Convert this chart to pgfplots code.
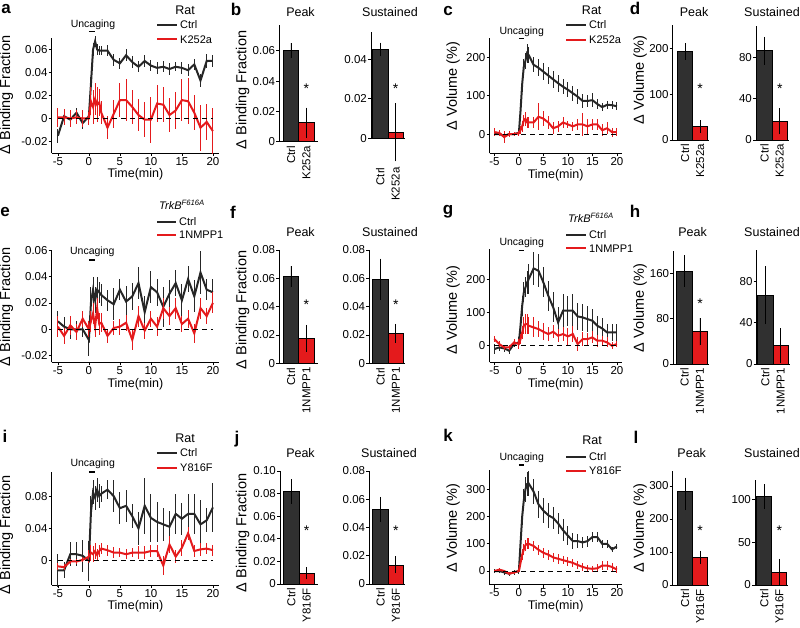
\documentclass[border=0pt]{standalone}
\usepackage{fontspec}
\setmainfont{Liberation Sans}
\usepackage{pgfplots}
\pgfplotsset{compat=1.18}
\definecolor{ctrl}{HTML}{262626}
\definecolor{barg}{HTML}{303030}
\definecolor{drug}{HTML}{E41A1C}
\newcommand\fs[1]{\fontsize{#1}{#1}\selectfont}

\pgfplotsset{
  fig/.style={scale only axis, anchor=south west, clip=false,
    axis lines*=left, axis line style={line width=0.8pt},
    every tick/.style={black, line width=0.8pt},
    tick align=outside, major tick length=3pt,
    scaled y ticks=false,
    ticklabel style={font=\fs{11.5}, inner sep=1pt},
    /pgf/number format/assume math mode=true},
  trace/.style={fig, xmin=-6, xmax=21, xtick={-5,0,5,10,15,20},
    xticklabels={-5,0,5,10,15,20}, xlabel={Time(min)},
    xlabel style={font=\fs{12.5}, inner sep=0.5pt, at={(rel axis cs:0.5,0)}, anchor=center, yshift=-21.5pt}},
  bars/.style={fig, ymin=0, xtick={1,2}, xtick style={draw=none},
    xticklabel style={rotate=90, anchor=east}},
  zero/.style={black, line width=0.8pt, dash pattern=on 5pt off 4pt},
  unc/.style={black, line width=1.2pt},
  ctrlline/.style={ctrl, line width=2pt, error bars/.cd, y dir=both, y explicit,
    error mark=none, error bar style={ctrl, line width=0.9pt}},
  drugline/.style={drug, line width=2pt, error bars/.cd, y dir=both, y explicit,
    error mark=none, error bar style={drug, line width=0.9pt}},
  ctrlbar/.style={ybar, bar width=1, bar shift=0pt, fill=barg, draw=black, line width=0.8pt,
    error bars/.cd, y dir=both, y explicit, error mark=none, error bar style={black, line width=0.8pt}},
  drugbar/.style={ybar, bar width=1, bar shift=0pt, fill=drug, draw=black, line width=0.8pt,
    error bars/.cd, y dir=both, y explicit, error mark=none, error bar style={black, line width=0.8pt}},
}
\tikzset{star/.style={font=\fs{14}, yshift=-3pt, inner sep=0.5pt},
  ttl/.style={font=\fs{12.5}, inner sep=1pt},
  lbl/.style={font=\fs{17}\bfseries, inner sep=1pt},
  yl/.style={rotate=90, font=\fs{14.5}, inner sep=1pt},
  leg/.style={font=\fs{11}, anchor=west, inner sep=1pt, xshift=2pt},
  unct/.style={font=\fs{10.5}, inner sep=0.5pt},
  hdr/.style={font=\fs{12.5}, inner sep=0.5pt},
  legl/.style={line width=2pt}}

\begin{document}
\begin{tikzpicture}
\path[use as bounding box] (0,0) rectangle (800pt,627pt);

%%%%%%%%%%%%%%%% row 1
\begin{axis}[trace, at={(51.7pt,474pt)}, width=167.4pt, height=115pt,
  ymin=-0.03, ymax=0.07, ytick={-0.02,0,0.02,0.04,0.06},
  yticklabels={-0.02,0,0.02,0.04,0.06}]
\addplot[ctrlline] table[x=t,y=y,y error=e] {
t y e
-5 -0.015 0.006
-4 0.002 0.005
-3 -0.001 0.005
-2 0.005 0.004
-1 -0.004 0.005
0 0.002 0.004
0.33 0.030 0.006
0.67 0.060 0.006
1 0.067 0.005
1.33 0.060 0.005
1.67 0.059 0.004
2 0.059 0.004
3 0.059 0.005
4 0.051 0.005
5 0.048 0.005
6 0.055 0.005
7 0.049 0.005
8 0.045 0.005
9 0.050 0.005
10 0.046 0.005
11 0.044 0.005
12 0.045 0.005
13 0.043 0.005
14 0.045 0.004
15 0.044 0.005
16 0.042 0.005
17 0.047 0.005
18 0.033 0.006
19 0.050 0.006
20 0.050 0.005
};
\addplot[drugline] table[x=t,y=y,y error=e] {
t y e
-5 0.001 0.008
-4 0.001 0.007
-3 0.000 0.007
-2 0.001 0.006
-1 0.000 0.007
0 0.000 0.006
0.33 0.015 0.012
0.67 0.010 0.015
1 0.017 0.014
1.33 0.012 0.015
1.67 0.014 0.012
2 0.005 0.010
3 -0.008 0.010
4 0.004 0.012
5 0.016 0.015
6 0.016 0.018
7 0.010 0.015
8 0.003 0.014
9 -0.001 0.015
10 -0.001 0.020
11 0.013 0.016
12 0.012 0.015
13 0.003 0.015
14 0.007 0.016
15 0.016 0.018
16 0.015 0.020
17 0.005 0.015
18 -0.008 0.020
19 -0.003 0.016
20 -0.011 0.020
};
\addplot[zero] coordinates {(-5,0) (20,0)};
\addplot[unc] coordinates {(0,0.0753) (1,0.0753)};
\end{axis}

\begin{axis}[bars, at={(279.3pt,485.3pt)}, width=38.75pt, height=116.7pt,
  xmin=0.25, xmax=2.75, ymax=0.077, ytick={0,0.02,0.04,0.06},
  yticklabels={0,0.02,0.04,0.06}, xticklabels={Ctrl,K252a}]
\addplot[ctrlbar] coordinates {(1,0.060) +- (0,0.005)};
\addplot[drugbar] coordinates {(2,0.0125) +- (0,0.010)};
\node[star] at (axis cs:2,0.037) {*};
\end{axis}

\begin{axis}[bars, at={(371pt,488.7pt)}, width=34.3pt, height=106.6pt,
  xmin=0.39, xmax=2.63, ymax=0.054, ytick={0,0.02,0.04},
  yticklabels={0,0.02,0.04}, xticklabels={Ctrl,K252a}, xticklabel shift=25pt]
\addplot[ctrlbar] coordinates {(1,0.045) +- (0,0.0035)};
\addplot[drugbar] coordinates {(2,0.003) +- (0,0.0147)};
\node[star] at (axis cs:2,0.0265) {*};
\end{axis}

\begin{axis}[trace, at={(489.5pt,473.7pt)}, width=132.3pt, height=115.5pt,
  ymin=-50, ymax=250, ytick={0,100,200}, yticklabels={0,100,200}]
\addplot[ctrlline] table[x=t,y=y,y error=e] {
t y e
-5 0 6
-4 0 5
-3 -5 6
-2 0 5
-1 0 5
0 3 5
0.33 60 15
0.67 130 20
1 175 20
1.33 190 20
1.67 210 25
2 205 20
3 180 20
4 172 22
5 162 22
6 152 22
7 142 22
8 132 22
9 123 20
10 115 20
11 106 20
12 97 20
13 86 18
14 86 15
15 88 18
16 78 12
17 70 10
18 76 10
19 75 10
20 72 10
};
\addplot[drugline] table[x=t,y=y,y error=e] {
t y e
-5 5 10
-4 3 8
-3 -8 15
-2 0 8
-1 0 6
0 2 6
0.33 10 10
0.67 20 15
1 35 15
1.33 40 18
1.67 30 15
2 30 15
3 30 15
4 45 35
5 40 20
6 30 18
7 15 15
8 20 15
9 30 15
10 25 10
11 20 12
12 25 15
13 25 30
14 20 20
15 25 15
16 25 15
17 10 15
18 15 15
19 5 12
20 5 10
};
\addplot[zero] coordinates {(-5,0) (20,0)};
\addplot[unc] coordinates {(0,249) (1,249)};
\end{axis}

\begin{axis}[bars, at={(672.7pt,487pt)}, width=36.6pt, height=114.5pt,
  xmin=0.19, xmax=2.6, ymax=250, ytick={0,100,200},
  yticklabels={0,100,200}, xticklabels={Ctrl,K252a}]
\addplot[ctrlbar] coordinates {(1,193) +- (0,18)};
\addplot[drugbar] coordinates {(2,29) +- (0,14)};
\node[star] at (axis cs:2,118) {*};
\end{axis}

\begin{axis}[bars, at={(756pt,487pt)}, width=33.4pt, height=114pt,
  xmin=0.45, xmax=2.63, ymax=110, ytick={0,40,80},
  yticklabels={0,40,80}, xticklabels={Ctrl,K252a}]
\addplot[ctrlbar] coordinates {(1,86) +- (0,13.5)};
\addplot[drugbar] coordinates {(2,18) +- (0,12.5)};
\node[star] at (axis cs:2,52) {*};
\end{axis}

%%%%%%%%%%%%%%%% row 2
\begin{axis}[trace, at={(51.7pt,264.7pt)}, width=167.4pt, height=112.2pt,
  ymin=-0.025, ymax=0.06, ytick={-0.02,0,0.02,0.04,0.06},
  yticklabels={-0.02,0,0.02,0.04,0.06}]
\addplot[ctrlline] table[x=t,y=y,y error=e] {
t y e
-5 0.006 0.008
-4 0.002 0.007
-3 0.000 0.007
-2 0.000 0.006
-1 0.000 0.006
0 -0.008 0.012
0.33 0.020 0.012
0.67 0.030 0.010
1 0.022 0.010
1.33 0.030 0.010
1.67 0.028 0.008
2 0.026 0.008
3 0.022 0.008
4 0.019 0.012
5 0.030 0.008
6 0.021 0.012
7 0.025 0.010
8 0.035 0.012
9 0.013 0.012
10 0.032 0.012
11 0.028 0.010
12 0.017 0.015
13 0.027 0.010
14 0.035 0.010
15 0.022 0.012
16 0.038 0.010
17 0.025 0.012
18 0.043 0.016
19 0.030 0.008
20 0.028 0.010
};
\addplot[drugline] table[x=t,y=y,y error=e] {
t y e
-5 0.002 0.008
-4 -0.005 0.006
-3 0.003 0.007
-2 -0.002 0.006
-1 0.008 0.006
0 0.000 0.006
0.33 0.006 0.008
0.67 0.012 0.008
1 0.002 0.008
1.33 0.016 0.008
1.67 0.004 0.008
2 0.005 0.007
3 -0.005 0.005
4 0.001 0.005
5 0.002 0.006
6 0.005 0.006
7 -0.008 0.008
8 0.010 0.008
9 -0.001 0.006
10 0.008 0.006
11 0.002 0.007
12 0.016 0.008
13 0.010 0.007
14 0.016 0.008
15 0.004 0.006
16 0.008 0.007
17 -0.003 0.007
18 0.016 0.008
19 0.010 0.006
20 0.020 0.008
};
\addplot[zero] coordinates {(-5,0) (20,0)};
\addplot[unc] coordinates {(0,0.0525) (1,0.0525)};
\end{axis}

\begin{axis}[bars, at={(279.3pt,263.7pt)}, width=38.75pt, height=113.3pt,
  xmin=0.25, xmax=2.75, ymax=0.08, ytick={0,0.02,0.04,0.06,0.08},
  yticklabels={0,0.02,0.04,0.06,0.08}, xticklabels={Ctrl,1NMPP1}]
\addplot[ctrlbar] coordinates {(1,0.0612) +- (0,0.0075)};
\addplot[drugbar] coordinates {(2,0.0177) +- (0,0.0095)};
\node[star] at (axis cs:2,0.0435) {*};
\end{axis}

\begin{axis}[bars, at={(369.3pt,263.7pt)}, width=35.7pt, height=113.3pt,
  xmin=0.27, xmax=2.6, ymax=0.08, ytick={0,0.02,0.04,0.06,0.08},
  yticklabels={0,0.02,0.04,0.06,0.08}, xticklabels={Ctrl,1NMPP1}]
\addplot[ctrlbar] coordinates {(1,0.0594) +- (0,0.0145)};
\addplot[drugbar] coordinates {(2,0.0212) +- (0,0.0066)};
\node[star] at (axis cs:2,0.0435) {*};
\end{axis}

\begin{axis}[trace, at={(489.5pt,264.6pt)}, width=132.3pt, height=113.3pt,
  ymin=-50, ymax=290, ytick={0,100,200}, yticklabels={0,100,200}]
\addplot[ctrlline] table[x=t,y=y,y error=e] {
t y e
-5 -10 15
-4 -5 12
-3 -8 10
-2 -15 10
-1 5 10
0 10 15
0.33 60 25
0.67 120 30
1 160 30
1.33 175 30
1.67 190 35
2 200 45
3 232 50
4 225 50
5 190 45
6 150 45
7 115 45
8 70 45
9 105 50
10 105 45
11 105 50
12 88 40
13 85 40
14 80 40
15 75 35
16 60 30
17 52 30
18 40 25
19 40 25
20 40 25
};
\addplot[drugline] table[x=t,y=y,y error=e] {
t y e
-5 20 10
-4 5 8
-3 -5 8
-2 -5 8
-1 10 10
0 5 15
0.33 20 15
0.67 40 20
1 60 25
1.33 65 30
1.67 65 30
2 60 25
3 55 30
4 50 25
5 42 25
6 35 20
7 42 20
8 30 20
9 35 20
10 28 25
11 35 25
12 5 20
13 20 20
14 20 18
15 25 18
16 15 18
17 15 15
18 10 15
19 0 10
20 5 10
};
\addplot[zero] coordinates {(-5,0) (20,0)};
\addplot[unc] coordinates {(0,287) (1,287)};
\end{axis}

\begin{axis}[bars, at={(673.3pt,263pt)}, width=36pt, height=113.4pt,
  xmin=0.28, xmax=2.6, ymax=200, ytick={0,80,160},
  yticklabels={0,80,160}, xticklabels={Ctrl,1NMPP1}]
\addplot[ctrlbar] coordinates {(1,164) +- (0,27.5)};
\addplot[drugbar] coordinates {(2,57) +- (0,24)};
\node[star] at (axis cs:2,112) {*};
\end{axis}

\begin{axis}[bars, at={(756.7pt,263pt)}, width=33.4pt, height=114pt,
  xmin=0.44, xmax=2.62, ymax=110, ytick={0,40,80},
  yticklabels={0,40,80}, xticklabels={Ctrl,1NMPP1}]
\addplot[ctrlbar] coordinates {(1,66.5) +- (0,28)};
\addplot[drugbar] coordinates {(2,17.6) +- (0,17)};
\end{axis}

%%%%%%%%%%%%%%%% row 3
\begin{axis}[trace, at={(51.7pt,42.1pt)}, width=167.4pt, height=113pt,
  ymin=-0.03, ymax=0.11, ytick={0,0.04,0.08}, yticklabels={0,0.04,0.08}]
\addplot[ctrlline] table[x=t,y=y,y error=e] {
t y e
-5 -0.012 0.020
-4 -0.012 0.010
-3 0.008 0.015
-2 0.008 0.015
-1 0.006 0.020
0 0.000 0.025
0.33 0.060 0.020
0.67 0.085 0.015
1 0.078 0.015
1.33 0.088 0.015
1.67 0.080 0.015
2 0.083 0.010
3 0.088 0.012
4 0.080 0.020
5 0.065 0.020
6 0.068 0.020
7 0.055 0.015
8 0.040 0.020
9 0.068 0.035
10 0.053 0.030
11 0.048 0.025
12 0.045 0.020
13 0.042 0.020
14 0.058 0.025
15 0.052 0.020
16 0.058 0.025
17 0.058 0.025
18 0.045 0.030
19 0.050 0.015
20 0.066 0.030
};
\addplot[drugline] table[x=t,y=y,y error=e] {
t y e
-5 -0.007 0.004
-4 -0.008 0.004
-3 -0.001 0.003
-2 -0.001 0.003
-1 0.001 0.003
0 0.005 0.008
0.33 0.010 0.010
0.67 0.008 0.010
1 0.012 0.010
1.33 0.007 0.008
1.67 0.012 0.008
2 0.015 0.007
3 0.013 0.007
4 0.010 0.007
5 0.010 0.006
6 0.008 0.006
7 0.010 0.006
8 0.010 0.008
9 0.010 0.008
10 0.012 0.007
11 0.012 0.008
12 -0.006 0.012
13 0.020 0.010
14 0.005 0.008
15 0.016 0.010
16 0.034 0.008
17 0.012 0.008
18 0.014 0.008
19 0.015 0.007
20 0.013 0.007
};
\addplot[zero] coordinates {(-5,0) (20,0)};
\addplot[unc] coordinates {(0,0.110) (1,0.110)};
\end{axis}

\begin{axis}[bars, at={(280pt,43pt)}, width=38pt, height=113pt,
  xmin=0.28, xmax=2.73, ymax=0.10, ytick={0,0.02,0.04,0.06,0.08,0.10},
  yticklabels={0,0.02,0.04,0.06,0.08,0.10}, xticklabels={Ctrl,Y816F}]
\addplot[ctrlbar] coordinates {(1,0.0817) +- (0,0.011)};
\addplot[drugbar] coordinates {(2,0.0095) +- (0,0.0055)};
\node[star] at (axis cs:2,0.050) {*};
\end{axis}

\begin{axis}[bars, at={(369.3pt,43pt)}, width=35.7pt, height=113pt,
  xmin=0.27, xmax=2.6, ymax=0.08, ytick={0,0.02,0.04,0.06,0.08},
  yticklabels={0,0.02,0.04,0.06,0.08}, xticklabels={Ctrl,Y816F}]
\addplot[ctrlbar] coordinates {(1,0.0529) +- (0,0.0088)};
\addplot[drugbar] coordinates {(2,0.0135) +- (0,0.006)};
\node[star] at (axis cs:2,0.040) {*};
\end{axis}

\begin{axis}[trace, at={(489.5pt,42.4pt)}, width=132.3pt, height=114.2pt,
  ymin=-50, ymax=370, ytick={0,100,200,300}, yticklabels={0,100,200,300}]
\addplot[ctrlline] table[x=t,y=y,y error=e] {
t y e
-5 0 8
-4 0 8
-3 -5 8
-2 -10 8
-1 -5 8
0 0 10
0.33 100 25
0.67 200 30
1 260 40
1.33 300 45
1.67 320 45
2 322 45
3 292 45
4 245 50
5 222 45
6 205 45
7 195 40
8 175 40
9 150 40
10 130 35
11 110 30
12 110 25
13 105 20
14 110 20
15 125 20
16 125 20
17 100 15
18 100 15
19 80 10
20 90 10
};
\addplot[drugline] table[x=t,y=y,y error=e] {
t y e
-5 0 5
-4 5 5
-3 0 5
-2 -10 5
-1 -5 5
0 0 5
0.33 30 15
0.67 60 20
1 80 20
1.33 95 20
1.67 100 20
2 100 20
3 92 20
4 78 18
5 67 18
6 60 18
7 50 18
8 45 18
9 40 15
10 35 15
11 30 15
12 22 15
13 15 15
14 10 12
15 8 12
16 10 15
17 20 15
18 20 15
19 15 15
20 5 12
};
\addplot[zero] coordinates {(-5,0) (20,0)};
\addplot[unc] coordinates {(0,390) (1,390)};
\end{axis}

\begin{axis}[bars, at={(672.7pt,42pt)}, width=36.6pt, height=113.9pt,
  xmin=0.19, xmax=2.6, ymax=345, ytick={0,100,200,300},
  yticklabels={0,100,200,300}, xticklabels={Ctrl,Y816F}]
\addplot[ctrlbar] coordinates {(1,285) += (0,40) -= (0,58)};
\addplot[drugbar] coordinates {(2,83) +- (0,20)};
\node[star] at (axis cs:2,175) {*};
\end{axis}

\begin{axis}[bars, at={(755pt,42pt)}, width=33.3pt, height=105pt,
  xmin=0.38, xmax=2.6, ymax=122.5, ytick={0,50,100},
  yticklabels={0,50,100}, xticklabels={Ctrl,Y816F}]
\addplot[ctrlbar] coordinates {(1,103) +- (0,14.5)};
\addplot[drugbar] coordinates {(2,15) +- (0,15.5)};
\node[star] at (axis cs:2,67) {*};
\end{axis}

%%%%%%%%%%%%%%%% labels
\node[lbl] at (6pt,618pt) {a};
\node[lbl] at (236pt,618pt) {b};
\node[lbl] at (448pt,616pt) {c};
\node[lbl] at (635pt,619pt) {d};
\node[lbl] at (5pt,415pt) {e};
\node[lbl] at (233pt,415pt) {f};
\node[lbl] at (448pt,415pt) {g};
\node[lbl] at (635pt,416pt) {h};
\node[lbl] at (5pt,191pt) {i};
\node[lbl] at (237pt,188pt) {j};
\node[lbl] at (448pt,192pt) {k};
\node[lbl] at (636pt,190pt) {l};

\node[yl] at (6.5pt,532pt) {Δ Binding Fraction};
\node[yl] at (242.5pt,537pt) {Δ Binding Fraction};
\node[yl] at (453pt,541pt) {Δ Volume (\%)};
\node[yl] at (640pt,547pt) {Δ Volume (\%)};
\node[yl] at (6.5pt,320pt) {Δ Binding Fraction};
\node[yl] at (242.5pt,317pt) {Δ Binding Fraction};
\node[yl] at (453pt,317pt) {Δ Volume (\%)};
\node[yl] at (640pt,319pt) {Δ Volume (\%)};
\node[yl] at (6.5pt,92pt) {Δ Binding Fraction};
\node[yl] at (242.5pt,94pt) {Δ Binding Fraction};
\node[yl] at (453pt,99pt) {Δ Volume (\%)};
\node[yl] at (640pt,99pt) {Δ Volume (\%)};

\node[ttl] at (300.5pt,615.3pt) {Peak};
\node[ttl] at (390pt,615.3pt) {Sustained};
\node[ttl] at (694pt,615.3pt) {Peak};
\node[ttl] at (772pt,615.3pt) {Sustained};
\node[ttl] at (300.5pt,395.3pt) {Peak};
\node[ttl] at (390pt,395.3pt) {Sustained};
\node[ttl] at (692.5pt,395.3pt) {Peak};
\node[ttl] at (772pt,395.3pt) {Sustained};
\node[ttl] at (300.5pt,173.7pt) {Peak};
\node[ttl] at (389pt,173.7pt) {Sustained};
\node[ttl] at (691.7pt,173.7pt) {Peak};
\node[ttl] at (772pt,173.7pt) {Sustained};

\node[unct] at (93pt,602pt) {Uncaging};
\node[unct] at (521.7pt,595.3pt) {Uncaging};
\node[unct] at (92.3pt,375.3pt) {Uncaging};
\node[unct] at (521.7pt,384.7pt) {Uncaging};
\node[unct] at (92.7pt,163pt) {Uncaging};
\node[unct] at (521.7pt,169.7pt) {Uncaging};

% legends
\node[hdr] at (185pt,617pt) {Rat};
\draw[legl, ctrl] (157pt,602pt) -- (177pt,602pt); \node[leg] at (177pt,602pt) {Ctrl};
\draw[legl, drug] (157pt,587.7pt) -- (177pt,587.7pt); \node[leg] at (177pt,587.7pt) {K252a};
\node[hdr] at (591.7pt,617pt) {Rat};
\draw[legl, ctrl] (566pt,602pt) -- (586pt,602pt); \node[leg] at (586pt,602pt) {Ctrl};
\draw[legl, drug] (566pt,587pt) -- (586pt,587pt); \node[leg] at (586pt,587pt) {K252a};

\node[font=\fs{11}\itshape, inner sep=0.5pt] at (182pt,422pt) {TrkB\textsuperscript{F616A}};
\draw[legl, ctrl] (157pt,405.3pt) -- (176pt,405.3pt); \node[leg] at (176pt,405.3pt) {Ctrl};
\draw[legl, drug] (157pt,392pt) -- (176pt,392pt); \node[leg] at (176pt,392pt) {1NMPP1};
\node[font=\fs{11}\itshape, inner sep=0.5pt] at (591pt,409pt) {TrkB\textsuperscript{F616A}};
\draw[legl, ctrl] (566pt,392pt) -- (586pt,392pt); \node[leg] at (586pt,392pt) {Ctrl};
\draw[legl, drug] (566pt,378.7pt) -- (586pt,378.7pt); \node[leg] at (586pt,378.7pt) {1NMPP1};

\node[hdr] at (185pt,189pt) {Rat};
\draw[legl, ctrl] (157pt,174pt) -- (177pt,174pt); \node[leg] at (177pt,174pt) {Ctrl};
\draw[legl, drug] (157pt,159.3pt) -- (177pt,159.3pt); \node[leg] at (177pt,159.3pt) {Y816F};
\node[hdr] at (592pt,186.3pt) {Rat};
\draw[legl, ctrl] (566pt,170.3pt) -- (586pt,170.3pt); \node[leg] at (586pt,170.3pt) {Ctrl};
\draw[legl, drug] (566pt,156pt) -- (586pt,156pt); \node[leg] at (586pt,156pt) {Y816F};
\end{tikzpicture}
\end{document}
